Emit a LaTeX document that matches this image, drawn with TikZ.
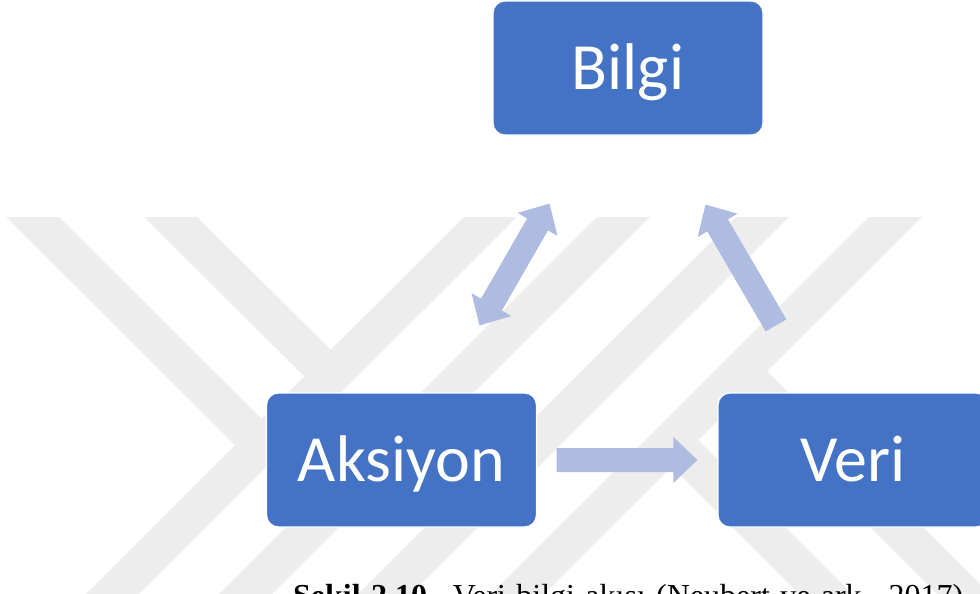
\documentclass[tikz,border=0pt]{standalone}
\usepackage{fontspec}
\setmainfont{Liberation Serif}
\newfontfamily\boxfont{Carlito}
\usetikzlibrary{calc}

\definecolor{boxblue}{HTML}{4472C4}
\definecolor{flowblue}{HTML}{ADBCE0}
\definecolor{markgray}{RGB}{237,237,237}

\tikzset{
  box/.style={rectangle, rounded corners=12pt, fill=boxblue, draw=white,
    line width=1.2pt, minimum width=270pt, minimum height=134pt, inner sep=0pt,
    text=white, font=\boxfont\fontsize{66}{70}\selectfont,
    text height=42pt, text depth=0pt},
  flow/.style={fill=flowblue},
  band/.style={fill=markgray},
  captiontext/.style={anchor=base west, inner sep=0pt,
    font=\fontsize{32}{38}\selectfont}
}

% block arrow with one head: #1 tail, #2 tip
\newcommand\oneway[2]{%
  \coordinate (neckB) at ($(#2)!24pt!(#1)$);
  \fill[flow] ($(#1)!12pt!90:(#2)$) -- ($(neckB)!12pt!90:(#2)$)
    -- ($(neckB)!23pt!90:(#2)$) -- (#2) -- ($(neckB)!23pt!-90:(#2)$)
    -- ($(neckB)!12pt!-90:(#2)$) -- ($(#1)!12pt!-90:(#2)$) -- cycle;}

% block arrow with a head at each end
\newcommand\twoway[2]{%
  \coordinate (neckA) at ($(#1)!24pt!(#2)$);
  \coordinate (neckB) at ($(#2)!24pt!(#1)$);
  \fill[flow] (#1) -- ($(neckA)!23pt!-90:(#2)$) -- ($(neckA)!12pt!-90:(#2)$)
    -- ($(neckB)!12pt!-90:(#2)$) -- ($(neckB)!23pt!-90:(#2)$) -- (#2)
    -- ($(neckB)!23pt!90:(#2)$) -- ($(neckB)!12pt!90:(#2)$)
    -- ($(neckA)!12pt!90:(#2)$) -- ($(neckA)!23pt!90:(#2)$) -- cycle;}

\begin{document}
\begin{tikzpicture}[x=1pt, y=-1pt]
  \useasboundingbox (0,0) rectangle (980,594);
  \clip (0,0) rectangle (980,594);
  \fill[white] (0,0) rectangle (980,594);

  % faint striped emblem in the background
  \fill[band] (464,217) -- (517,217) -- (133,600) -- (80,600) -- cycle;
  \fill[band] (597,217) -- (650,217) -- (266,600) -- (213,600) -- cycle;
  \fill[band] (736,217) -- (789,217) -- (405,600) -- (352,600) -- cycle;
  \fill[band] (869,217) -- (922,217) -- (538,600) -- (485,600) -- cycle;
  \fill[band] (6,217) -- (59,217) -- (274.5,431.5) -- (248,458) -- cycle;
  \fill[band] (144,217) -- (197,217) -- (343.5,362.5) -- (317,389) -- cycle;
  \fill[band] (658.25,453.25) -- (684.75,426.75) -- (858,600) -- (805,600) -- cycle;
  \fill[band] (727.25,384.25) -- (753.75,357.75) -- (996,600) -- (943,600) -- cycle;

  % the three stages
  \node[box] (bilgi)   at (628,68)    {Bilgi};
  \node[box] (aksiyon) at (401.5,460) {Aksiyon};
  \node[box] (veri)    at (853,460)   {Veri};

  % arrow end points between the stages
  \coordinate (akOut)  at ($(aksiyon.east)+(19.5,0)$);
  \coordinate (veIn)   at ($(veri.west)+(-20,0)$);
  \coordinate (akUp)   at ($(aksiyon.north)+(78,-67)$);
  \coordinate (biLeft) at ($(bilgi.south)+(-78.5,68)$);
  \coordinate (veUp)   at ($(veri.north)+(-77,-67)$);
  \coordinate (biRight) at ($(bilgi.south)+(77.5,69)$);

  \oneway{akOut}{veIn}
  \twoway{akUp}{biLeft}
  \oneway{veUp}{biRight}

  % justified caption line under the figure
  \node[captiontext] (caption) at (293,606)
    {\makebox[670pt][s]{\textbf{Şekil 2.10.} Veri bilgi akışı (Neubert ve ark., 2017)}};
\end{tikzpicture}
\end{document}
